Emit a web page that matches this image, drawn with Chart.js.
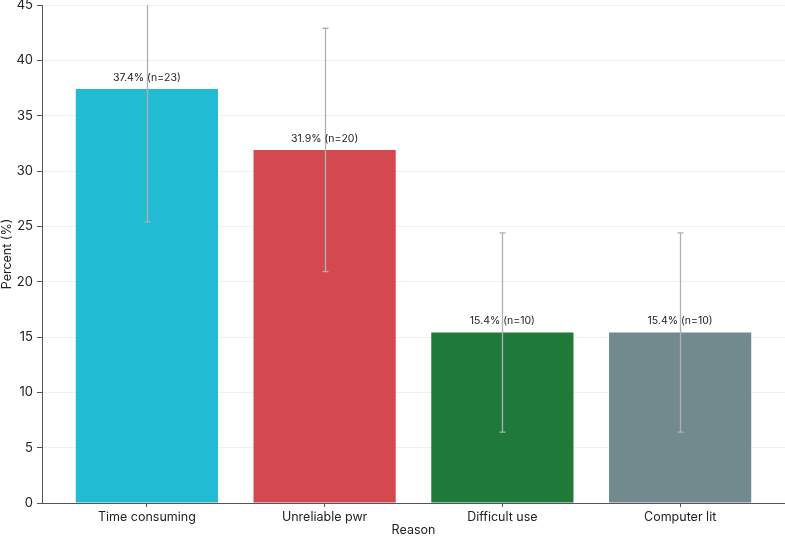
<!DOCTYPE html>
<html>
<head>
<meta charset="utf-8">
<script src="https://cdn.jsdelivr.net/npm/chart.js@4/dist/chart.umd.min.js"></script>
<style>
  html, body { margin: 0; padding: 0; background: #fff; }
  #wrap { width: 785px; height: 538px; }
</style>
</head>
<body>
<div id="wrap"><canvas id="chart" width="785" height="538"></canvas></div>
<script>
const reasons = ['Time consuming', 'Unreliable pwr', 'Difficult use', 'Computer lit'];
const percents = [37.4, 31.9, 15.4, 15.4];
const counts = [23, 20, 10, 10];
const errLow = [25.4, 20.9, 6.4, 6.4];
const errHigh = [49.4, 42.9, 24.4, 24.4];
const yTicks = [0, 5, 10, 15, 20, 25, 30, 35, 40, 45];

const barColors = ['#21bbd3', '#d4494f', '#1f7a39', '#728a8e'];
const FONT = 'Inter, "Open Sans", sans-serif';

// error bars + value labels on top of the bars
const extras = {
    id: 'extras',
    afterDatasetsDraw(chart) {
        const ctx = chart.ctx;
        const x = chart.scales.x, y = chart.scales.y;
        const area = chart.chartArea;
        ctx.save();
        ctx.beginPath();
        ctx.rect(area.left, area.top, area.right - area.left, area.bottom - area.top);
        ctx.clip();
        ctx.strokeStyle = '#b0b0b0';
        ctx.lineWidth = 1.3;
        percents.forEach((v, i) => {
            const cx = Math.round(x.getPixelForValue(i)) + 0.5;
            const yl = y.getPixelForValue(errLow[i]);
            const yh = y.getPixelForValue(errHigh[i]);
            ctx.beginPath();
            ctx.moveTo(cx, yl);
            ctx.lineTo(cx, yh);
            ctx.moveTo(cx - 3, yl);
            ctx.lineTo(cx + 3, yl);
            ctx.moveTo(cx - 3, yh);
            ctx.lineTo(cx + 3, yh);
            ctx.stroke();
        });
        ctx.restore();

        ctx.save();
        ctx.fillStyle = '#222';
        ctx.font = '10.5px ' + FONT;
        ctx.textAlign = 'center';
        ctx.textBaseline = 'bottom';
        percents.forEach((v, i) => {
            const cx = x.getPixelForValue(i);
            const top = y.getPixelForValue(v);
            ctx.fillText(v.toFixed(1) + '% (n=' + counts[i] + ')', cx, top - 6);
        });
        ctx.restore();
    }
};

new Chart(document.getElementById('chart'), {
    type: 'bar',
    data: {
        datasets: [{
            data: percents.map((v, i) => ({ x: i, y: v })),
            backgroundColor: barColors,
            borderWidth: 0,
            barPercentage: 0.8,
            categoryPercentage: 1.0
        }]
    },
    options: {
        responsive: false,
        animation: false,
        layout: { padding: { top: 5, right: 0, left: 0, bottom: 0 } },
        plugins: {
            legend: { display: false },
            tooltip: { enabled: false }
        },
        scales: {
            x: {
                type: 'linear',
                min: -0.59,
                max: 3.59,
                offset: false,
                afterBuildTicks(scale) {
                    scale.ticks = reasons.map((r, i) => ({ value: i }));
                },
                afterFit(scale) {
                    scale.height = 35;
                    scale.paddingLeft = 0;
                    scale.paddingRight = 0;
                },
                ticks: {
                    callback: (v) => reasons[v],
                    color: '#222',
                    font: { family: FONT, size: 12.5 },
                    padding: 3,
                    maxRotation: 0
                },
                grid: { offset: false, drawOnChartArea: false, drawTicks: true, tickLength: 4, tickColor: '#555' },
                border: { display: true, color: '#555', width: 1 },
                title: {
                    display: true,
                    text: 'Reason',
                    color: '#222',
                    font: { family: FONT, size: 12.5 },
                    padding: { top: 0, bottom: 0 }
                }
            },
            y: {
                min: 0,
                max: 45,
                afterBuildTicks(scale) {
                    scale.ticks = yTicks.map(v => ({ value: v }));
                },
                afterFit(scale) {
                    scale.width = 42;
                    scale.paddingTop = 0;
                    scale.paddingBottom = 0;
                },
                ticks: {
                    color: '#222',
                    font: { family: FONT, size: 13 },
                    padding: 4
                },
                grid: { color: '#f0f0f0', lineWidth: 1, drawTicks: true, tickLength: 5, tickColor: '#555' },
                border: { display: true, color: '#555', width: 1 },
                title: {
                    display: true,
                    text: 'Percent (%)',
                    color: '#222',
                    font: { family: FONT, size: 12.5 },
                    padding: { top: 0, bottom: 2 }
                }
            }
        }
    },
    plugins: [extras]
});
</script>
</body>
</html>
